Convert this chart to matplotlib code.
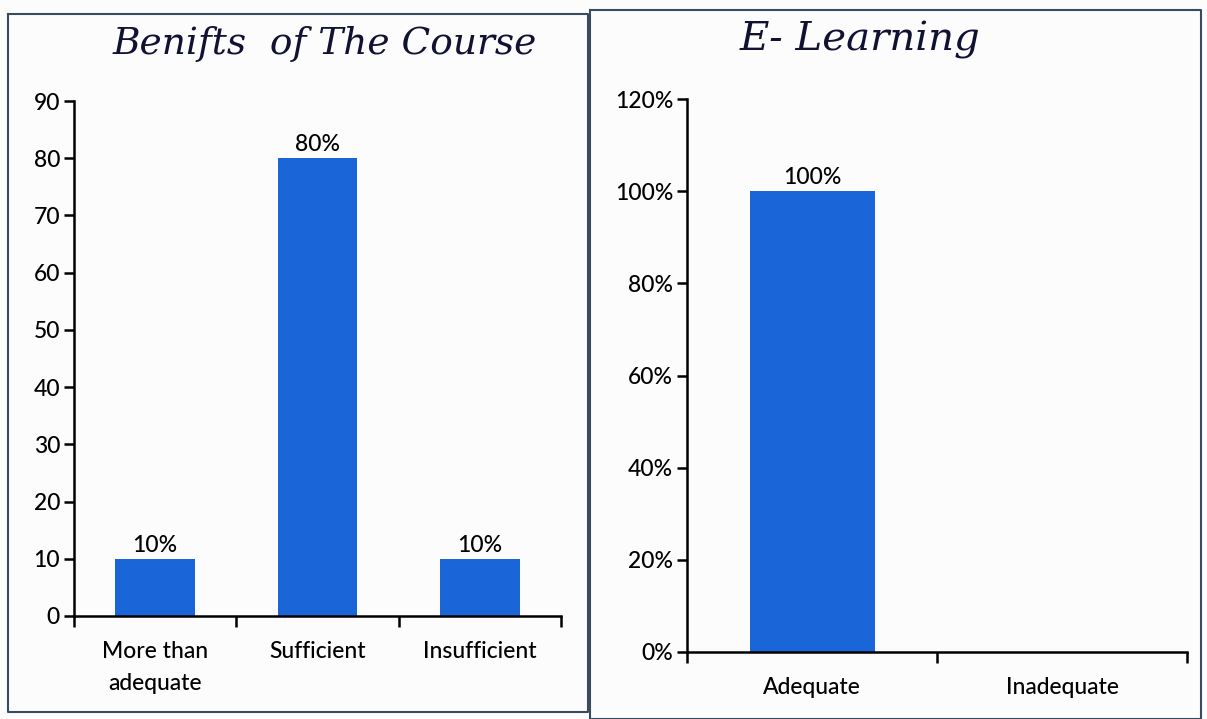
import matplotlib
matplotlib.use("Agg")
import matplotlib.pyplot as plt
from matplotlib.lines import Line2D

plt.rcParams['font.family'] = ['Lato', 'DejaVu Sans']
plt.rcParams['font.weight'] = 'medium'

# Data
left_title = "Benifts  of The Course"
left_categories = ["More than\nadequate", "Sufficient", "Insufficient"]
left_values = [10, 80, 10]
left_labels = ["10%", "80%", "10%"]
left_yticks = [0, 10, 20, 30, 40, 50, 60, 70, 80, 90]

right_title = "E- Learning"
right_categories = ["Adequate", "Inadequate"]
right_values = [100, 0]
right_labels = ["100%", ""]
right_yticks = [0, 20, 40, 60, 80, 100, 120]

bar_color = "#1a66d8"
FS = 16.5
W, H = 1207, 719
fig = plt.figure(figsize=(W / 100, H / 100), dpi=100)
fig.patch.set_facecolor("#fcfcfc")

def fx(px):
    return px / W

def fy(py):
    return 1 - py / H

# panel frames
frame_col = "#3b4b5e"
for (x0, y0, x1, y1) in [(8, 14, 588, 712), (590, 10, 1201, 719)]:
    xs = [fx(x0), fx(x1), fx(x1), fx(x0), fx(x0)]
    ys = [fy(y0), fy(y0), fy(y1), fy(y1), fy(y0)]
    fig.add_artist(Line2D(xs, ys, color=frame_col, lw=1.5, transform=fig.transFigure))

def style_axes(ax, n):
    for s in ["top", "right"]:
        ax.spines[s].set_visible(False)
    for s in ["left", "bottom"]:
        ax.spines[s].set_color("black")
        ax.spines[s].set_linewidth(1.8)
    ax.set_xlim(-0.5, n - 0.5)
    ax.set_xticks([i - 0.5 for i in range(n + 1)])
    ax.set_xticklabels([])
    ax.tick_params(axis="x", which="major", direction="out", length=8, width=1.8)
    ax.tick_params(axis="y", which="major", direction="out", length=7, width=1.8,
                   labelsize=FS, pad=3)
    ax.set_xticks(list(range(n)), minor=True)
    ax.tick_params(axis="x", which="minor", length=0, labelsize=FS, pad=18)
    ax.set_facecolor("none")

# Left chart
axL = fig.add_axes([fx(74), fy(616), fx(561) - fx(74), fy(101) - fy(616)])
axL.bar(range(len(left_values)), left_values, width=0.49, color=bar_color)
style_axes(axL, len(left_values))
axL.set_xticklabels(left_categories, minor=True, linespacing=1.65)
axL.set_ylim(0, 90)
axL.set_yticks(left_yticks)
axL.set_yticklabels([str(v) for v in left_yticks])
for i, (v, t) in enumerate(zip(left_values, left_labels)):
    axL.text(i, v + 0.5, t, ha="center", va="bottom", fontsize=FS)

# Right chart
axR = fig.add_axes([fx(687), fy(652), fx(1187) - fx(687), fy(99) - fy(652)])
axR.bar(range(len(right_values)), right_values, width=0.5, color=bar_color)
style_axes(axR, len(right_values))
axR.set_xticklabels(right_categories, minor=True)
axR.set_ylim(0, 120)
axR.set_yticks(right_yticks)
axR.set_yticklabels([f"{v}%" for v in right_yticks])
for i, (v, t) in enumerate(zip(right_values, right_labels)):
    if t:
        axR.text(i, v + 0.6, t, ha="center", va="bottom", fontsize=FS)

# Titles (handwritten in original)
fig.text(fx(325), fy(44), left_title, ha="center", va="center", fontsize=27,
         style="italic", family=["DejaVu Serif"], color="#111133", weight="normal")
fig.text(fx(860), fy(40), right_title, ha="center", va="center", fontsize=29,
         style="italic", family=["DejaVu Serif"], color="#111133", weight="normal")

fig.savefig("out.png", dpi=100, facecolor=fig.get_facecolor())
